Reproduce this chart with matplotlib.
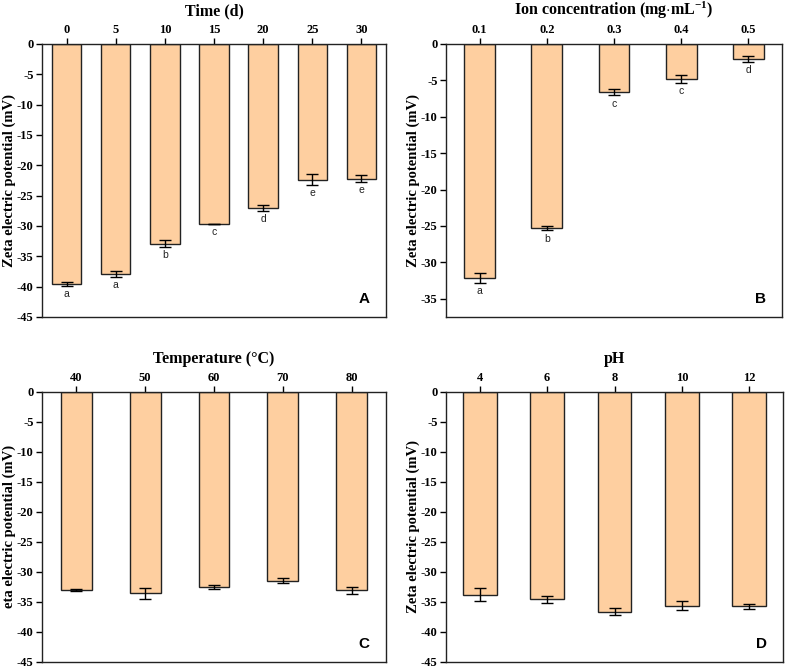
import matplotlib
matplotlib.use("Agg")
import matplotlib.pyplot as plt
import numpy as np

# ---- data ----
time_labels = ["0", "5", "10", "15", "20", "25", "30"]
time_vals = [-39.6, -37.9, -32.9, -29.6, -27.1, -22.4, -22.2]
time_err = [0.3, 0.5, 0.6, 0.0, 0.5, 0.9, 0.6]
time_sig = ["a", "a", "b", "c", "d", "e", "e"]

ion_labels = ["0.1", "0.2", "0.3", "0.4", "0.5"]
ion_vals = [-32.1, -25.3, -6.6, -4.8, -2.05]
ion_err = [0.7, 0.3, 0.45, 0.5, 0.4]
ion_sig = ["a", "b", "c", "c", "d"]

temp_labels = ["40", "50", "60", "70", "80"]
temp_vals = [-33.0, -33.6, -32.5, -31.5, -33.1]
temp_err = [0.15, 0.9, 0.3, 0.45, 0.55]

ph_labels = ["4", "6", "8", "10", "12"]
ph_vals = [-33.85, -34.6, -36.65, -35.65, -35.8]
ph_err = [1.1, 0.55, 0.55, 0.7, 0.45]

plt.rcParams["mathtext.fontset"] = "custom"
plt.rcParams["mathtext.rm"] = "Liberation Serif"
plt.rcParams["mathtext.bf"] = "Liberation Serif:bold"
plt.rcParams["mathtext.it"] = "Liberation Serif:italic"

SERIF = ["Liberation Serif", "DejaVu Serif"]
SANS = ["Liberation Sans", "DejaVu Sans"]
BAR_COLOR = "#FECFA0"
EDGE = "#222222"

fig = plt.figure(figsize=(7.9, 6.7), dpi=100)

def panel(rect, labels, vals, errs, title, ylabel, ylim, yticks, letter, width, sig=None):
    ax = fig.add_axes(rect)
    x = np.arange(len(labels))
    ax.bar(x, vals, width=width, color=BAR_COLOR, edgecolor=EDGE, linewidth=1.0, zorder=2)
    ax.errorbar(x, vals, yerr=errs, fmt="none", ecolor="black", elinewidth=1.0,
                capsize=4, capthick=1.0, zorder=3)
    ax.set_xlim(-0.5, len(labels) - 0.5)
    ax.set_ylim(*ylim)
    ax.set_yticks(yticks)
    ax.set_yticklabels([str(t) for t in yticks], fontfamily=SERIF, fontweight="bold", fontsize=9)
    ax.xaxis.tick_top()
    ax.xaxis.set_label_position("top")
    ax.set_xticks(x)
    ax.set_xticklabels(labels, fontfamily=SERIF, fontweight="bold", fontsize=9)
    ax.tick_params(axis="both", direction="out", length=4, width=1, pad=2)
    ax.set_xlabel(title, fontfamily=SERIF, fontweight="bold", fontsize=11.5, labelpad=6)
    ax.set_ylabel(ylabel, fontfamily=SERIF, fontweight="bold", fontsize=10.5, labelpad=1)
    for s in ax.spines.values():
        s.set_linewidth(1.0)
        s.set_color("#222222")
    if sig is not None:
        for xi, v, e, s in zip(x, vals, errs, sig):
            ax.text(xi, v - e - 0.5, s, ha="center", va="top", fontfamily=SANS,
                    fontsize=7.5, color="#222222")
    ax.text(0.935, 0.065, letter, transform=ax.transAxes, ha="center", va="center",
            fontfamily=SANS, fontweight="bold", fontsize=11)
    return ax

yt45 = [0, -5, -10, -15, -20, -25, -30, -35, -40, -45]
yt35 = [0, -5, -10, -15, -20, -25, -30, -35]

panel([0.0532, 0.5269, 0.4354, 0.4075], time_labels, time_vals, time_err,
      "Time (d)", "Zeta electric potential (mV)", (-45, 0), yt45, "A", 0.6, time_sig)
panel([0.5646, 0.5269, 0.4253, 0.4075], ion_labels, ion_vals, ion_err,
      r"Ion concentration (mg$\cdot$mL$^{\mathbf{-1}}$)", "Zeta electric potential (mV)",
      (-37.5, 0), yt35, "B", 0.46, ion_sig)
panel([0.0532, 0.0125, 0.4354, 0.4025], temp_labels, temp_vals, temp_err,
      "Temperature (°C)", "eta electric potential (mV)", (-45, 0), yt45, "C", 0.45)
panel([0.5646, 0.0125, 0.4266, 0.4025], ph_labels, ph_vals, ph_err,
      "pH", "Zeta electric potential (mV)", (-45, 0), yt45, "D", 0.5)

fig.savefig("out.png", dpi=100)
